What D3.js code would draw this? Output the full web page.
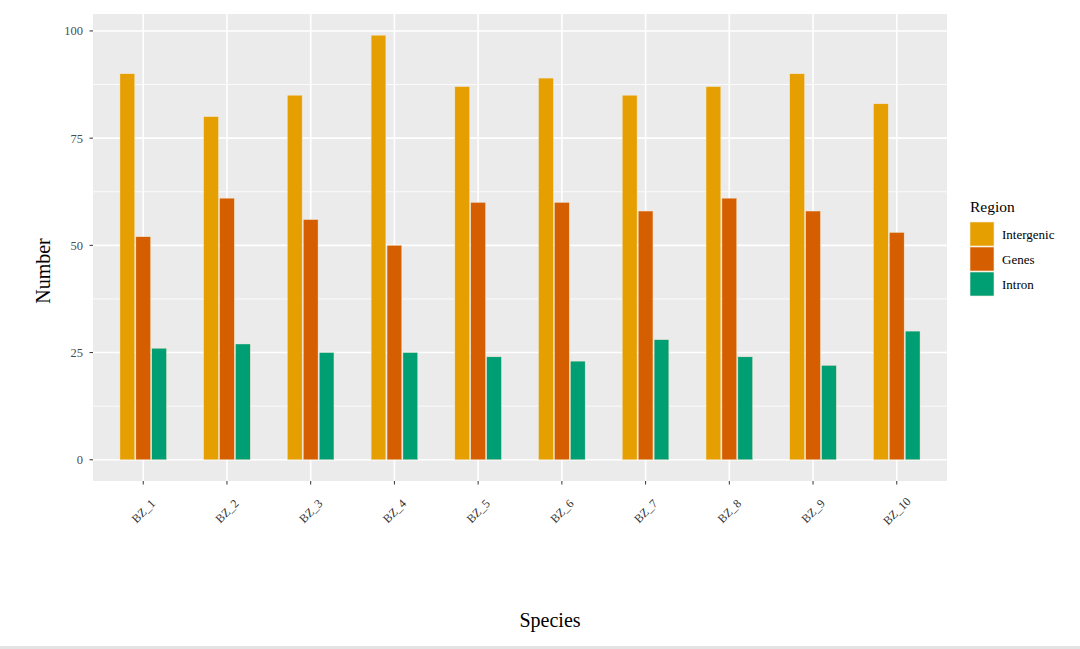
<!DOCTYPE html>
<html><head><meta charset="utf-8">
<script src="https://cdn.jsdelivr.net/npm/d3@7"></script>
<style>body{margin:0;background:#fff}svg{display:block}</style>
</head><body>
<script>
const species = ["BZ_1","BZ_2","BZ_3","BZ_4","BZ_5","BZ_6","BZ_7","BZ_8","BZ_9","BZ_10"];
const regions = ["Intergenic","Genes","Intron"];
const intergenic = [90,80,85,99,87,89,85,87,90,83];
const genes = [52,61,56,50,60,60,58,61,58,53];
const intron = [26,27,25,25,24,23,28,24,22,30];
const yTicks = [0,25,50,75,100];
const colors = ["#E69F00","#D55E00","#009E73"];

const W=1080,H=649;
const svg=d3.select("body").append("svg").attr("width",W).attr("height",H);
const font="'Liberation Serif','Times New Roman',serif";
const pl=93,pr=947,pt=14,pb=481;

// ggplot discrete expansion 0.6 each side
const step=(pr-pl)/(species.length-1+1.2);
const x=d3.scalePoint().domain(species).range([pl+0.6*step,pr-0.6*step]);
const ymax=d3.max(intergenic);
const y=d3.scaleLinear().domain([-0.05*ymax,ymax*1.05]).range([pb,pt]);

svg.append("rect").attr("x",pl).attr("y",pt).attr("width",pr-pl).attr("height",pb-pt).attr("fill","#EBEBEB");
const minor=[12.5,37.5,62.5,87.5];
svg.selectAll(".mg").data(minor).enter().append("line")
 .attr("x1",pl).attr("x2",pr).attr("y1",d=>y(d)).attr("y2",d=>y(d)).attr("stroke","#fff").attr("stroke-width",0.8);
svg.selectAll(".yg").data(yTicks).enter().append("line")
 .attr("x1",pl).attr("x2",pr).attr("y1",d=>y(d)).attr("y2",d=>y(d)).attr("stroke","#fff").attr("stroke-width",1.6);
svg.selectAll(".xg").data(species).enter().append("line")
 .attr("x1",d=>x(d)).attr("x2",d=>x(d)).attr("y1",pt).attr("y2",pb).attr("stroke","#fff").attr("stroke-width",1.6);

const series=[intergenic,genes,intron];
const groupW=step*0.57;
const sub=d3.scaleBand().domain(regions).range([-groupW/2,groupW/2]);
series.forEach((vals,k)=>{
  svg.append("g").selectAll("rect").data(vals).enter().append("rect")
   .attr("x",(d,i)=>x(species[i])+sub(regions[k])+0.6)
   .attr("width",sub.bandwidth()-1.2)
   .attr("y",d=>y(d))
   .attr("height",d=>y(0)-y(d))
   .attr("fill",colors[k])
   .attr("stroke","#f3e6c8").attr("stroke-width",0.4);
});

const ya=svg.append("g");
yTicks.forEach(t=>{
  ya.append("line").attr("x1",pl-3.5).attr("x2",pl).attr("y1",y(t)).attr("y2",y(t)).attr("stroke","#333").attr("stroke-width",1);
  ya.append("text").attr("x",pl-10).attr("y",y(t)).attr("dy","0.35em").attr("text-anchor","end")
   .attr("font-family",font).attr("font-size",12.5).attr("fill","#4D4D4D").text(t);
});
species.forEach(s=>{
  svg.append("line").attr("x1",x(s)).attr("x2",x(s)).attr("y1",pb).attr("y2",pb+3.5).attr("stroke","#333");
  svg.append("text").attr("transform",`translate(${x(s)},${511}) rotate(-45)`)
   .attr("text-anchor","middle").attr("dy","0.35em").attr("font-family",font).attr("font-size",12).attr("fill","#333").text(s);
});
svg.append("text").attr("x",550).attr("y",627).attr("text-anchor","middle")
 .attr("font-family",font).attr("font-size",20).attr("fill","#000").text("Species");
svg.append("text").attr("transform",`translate(50,${271}) rotate(-90)`).attr("text-anchor","middle")
 .attr("font-family",font).attr("font-size",20).attr("fill","#000").text("Number");

const lg=svg.append("g");
lg.append("text").attr("x",970).attr("y",212).attr("font-family",font).attr("font-size",15.5).attr("fill","#000").text("Region");
regions.forEach((r,k)=>{
  const yy=222+k*25;
  lg.append("rect").attr("x",970).attr("y",yy).attr("width",24).attr("height",24).attr("fill",colors[k]).attr("stroke","#f5ecd8").attr("stroke-width",0.6);
  lg.append("text").attr("x",1002).attr("y",yy+12).attr("dy","0.35em").attr("font-family",font).attr("font-size",13).attr("fill","#000").text(r);
});
svg.append("rect").attr("x",0).attr("y",646).attr("width",W).attr("height",3).attr("fill","#e3e3e3");
</script>
</body></html>
